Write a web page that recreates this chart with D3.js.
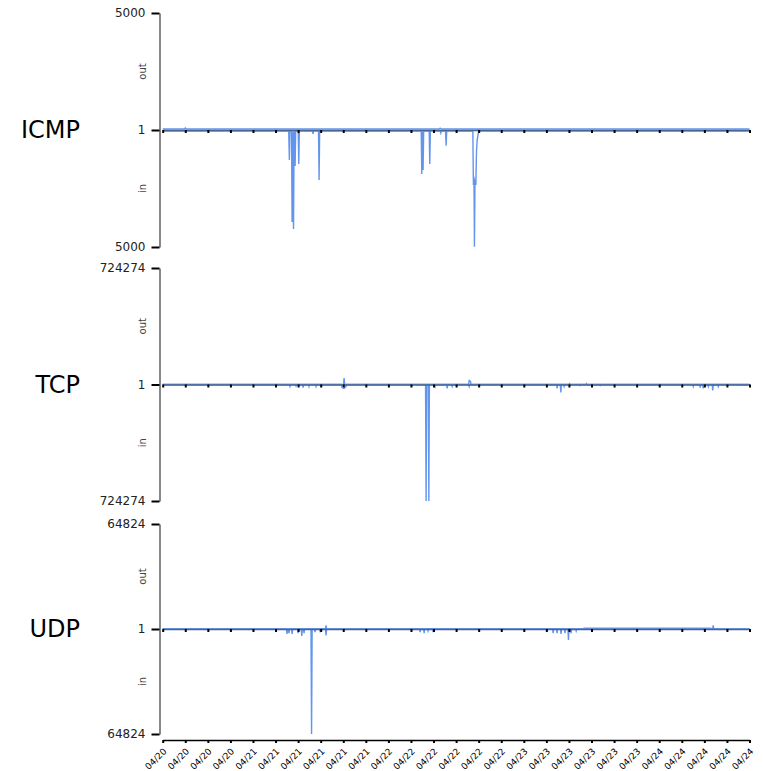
<!DOCTYPE html>
<html>
<head>
<meta charset="utf-8">
<script src="https://cdn.jsdelivr.net/npm/d3@7"></script>
<style>
  body { margin: 0; background: #fff; }
  svg { display: block; font-family: "DejaVu Sans", sans-serif; }
</style>
</head>
<body>
<svg width="763" height="771"></svg>
<script>
// protocols and their axis maxima
const protocols = ["ICMP", "TCP", "UDP"];
const maxima = [5000, 724274, 64824];
const centerLabel = "1";
const startTime = "04/20 08:00";
const endTime = "04/24 16:00";

// [time, value] samples
const icmpOut = [
    ["04/20 08:00", 40], ["04/20 11:50", 40], ["04/20 12:00", 90], ["04/20 12:10", 40],
    ["04/22 09:00", 40], ["04/22 09:10", 80], ["04/22 09:20", 40], ["04/24 16:00", 40]
];
const icmpIn = [
    ["04/20 08:00", 50],
    ["04/21 06:20", 50], ["04/21 06:27", 1280], ["04/21 06:33", 50],
    ["04/21 06:50", 50], ["04/21 06:56", 3930], ["04/21 07:03", 60], ["04/21 07:11", 4230], ["04/21 07:18", 50],
    ["04/21 07:23", 50], ["04/21 07:28", 1540], ["04/21 07:34", 50],
    ["04/21 08:01", 50], ["04/21 08:07", 1450], ["04/21 08:13", 50],
    ["04/21 10:33", 50], ["04/21 10:39", 170], ["04/21 10:45", 50],
    ["04/21 11:37", 50], ["04/21 11:43", 2140], ["04/21 11:49", 50],
    ["04/22 05:49", 50], ["04/22 05:55", 1880], ["04/22 06:02", 60], ["04/22 06:09", 1710], ["04/22 06:15", 50],
    ["04/22 07:14", 50], ["04/22 07:20", 1450], ["04/22 07:26", 50],
    ["04/22 09:11", 50], ["04/22 09:17", 130], ["04/22 09:23", 50],
    ["04/22 10:08", 50], ["04/22 10:14", 670], ["04/22 10:20", 50],
    ["04/22 14:58", 50], ["04/22 15:04", 2350], ["04/22 15:10", 2000], ["04/22 15:15", 4990],
    ["04/22 15:21", 2100], ["04/22 15:30", 2350], ["04/22 15:37", 900], ["04/22 15:44", 430],
    ["04/22 15:54", 200], ["04/22 16:00", 50],
    ["04/24 16:00", 50]
];
const tcpOut = [
    ["04/20 08:00", 0],
    ["04/21 16:03", 0], ["04/21 16:09", 40000], ["04/21 16:15", 0],
    ["04/22 14:13", 0], ["04/22 14:19", 25000], ["04/22 14:33", 19000], ["04/22 14:39", 0],
    ["04/23 08:00", 0], ["04/23 08:06", 6000], ["04/23 08:12", 0],
    ["04/23 11:00", 0], ["04/23 11:06", 6000], ["04/23 11:12", 0],
    ["04/24 16:00", 0]
];
const tcpIn = [
    ["04/20 08:00", 0],
    ["04/21 06:28", 0], ["04/21 06:34", 12000], ["04/21 06:40", 0],
    ["04/21 07:32", 0], ["04/21 07:38", 9000], ["04/21 07:44", 0],
    ["04/21 08:47", 0], ["04/21 08:53", 19000], ["04/21 08:59", 0],
    ["04/21 09:50", 0], ["04/21 09:56", 12000], ["04/21 10:02", 0],
    ["04/21 11:05", 0], ["04/21 11:11", 12000], ["04/21 11:17", 0],
    ["04/21 12:09", 0], ["04/21 12:15", 6000], ["04/21 12:21", 0],
    ["04/21 15:41", 0], ["04/21 15:47", 19000], ["04/21 16:09", 25000], ["04/21 16:30", 12000], ["04/21 16:36", 0],
    ["04/22 06:35", 0], ["04/22 06:41", 724274], ["04/22 06:47", 0],
    ["04/22 07:04", 0], ["04/22 07:10", 724274], ["04/22 07:16", 0],
    ["04/22 08:11", 0], ["04/22 08:17", 12000], ["04/22 08:23", 0],
    ["04/22 10:19", 0], ["04/22 10:25", 25000], ["04/22 10:31", 0],
    ["04/22 11:12", 0], ["04/22 11:18", 12000], ["04/22 11:24", 0],
    ["04/22 14:13", 0], ["04/22 14:19", 12000], ["04/22 14:25", 0],
    ["04/23 05:49", 0], ["04/23 05:55", 25000], ["04/23 06:01", 0],
    ["04/23 06:28", 0], ["04/23 06:34", 50000], ["04/23 06:40", 0],
    ["04/23 07:03", 0], ["04/23 07:09", 12000], ["04/23 07:15", 0],
    ["04/23 09:53", 0], ["04/23 09:59", 6000], ["04/23 10:05", 0],
    ["04/23 13:26", 0], ["04/23 13:32", 6000], ["04/23 13:38", 0],
    ["04/24 05:56", 0], ["04/24 06:02", 12000], ["04/24 06:08", 0],
    ["04/24 07:10", 0], ["04/24 07:16", 19000], ["04/24 07:22", 0],
    ["04/24 07:42", 0], ["04/24 07:48", 25000], ["04/24 07:54", 0],
    ["04/24 08:36", 0], ["04/24 08:42", 12000], ["04/24 08:48", 0],
    ["04/24 09:23", 0], ["04/24 09:29", 37000], ["04/24 09:35", 0],
    ["04/24 10:22", 0], ["04/24 10:28", 12000], ["04/24 10:34", 0],
    ["04/24 16:00", 0]
];
const udpOut = [
    ["04/20 08:00", 0],
    ["04/21 12:51", 0], ["04/21 12:57", 2200], ["04/21 13:03", 0],
    ["04/23 10:30", 0], ["04/23 10:40", 450], ["04/24 09:00", 450], ["04/24 09:28", 0],
    ["04/24 09:34", 2200], ["04/24 09:40", 0],
    ["04/24 16:00", 0]
];
const udpIn = [
    ["04/20 08:00", 0],
    ["04/21 05:56", 0], ["04/21 06:02", 3100], ["04/21 06:10", 0], ["04/21 06:23", 2500], ["04/21 06:30", 0],
    ["04/21 06:50", 0], ["04/21 06:56", 3100], ["04/21 07:02", 0],
    ["04/21 07:53", 0], ["04/21 07:59", 2500], ["04/21 08:05", 0],
    ["04/21 08:33", 0], ["04/21 08:39", 4300], ["04/21 08:45", 0],
    ["04/21 08:57", 0], ["04/21 09:03", 2500], ["04/21 09:09", 0],
    ["04/21 10:17", 0], ["04/21 10:23", 64824], ["04/21 10:29", 0],
    ["04/21 10:54", 0], ["04/21 11:00", 1850], ["04/21 11:06", 0],
    ["04/21 11:47", 0], ["04/21 11:53", 1200], ["04/21 11:59", 0],
    ["04/21 12:51", 0], ["04/21 12:57", 4000], ["04/21 13:03", 0],
    ["04/22 05:31", 0], ["04/22 05:37", 1850], ["04/22 05:43", 0],
    ["04/22 06:14", 0], ["04/22 06:20", 2500], ["04/22 06:26", 0],
    ["04/22 06:56", 0], ["04/22 07:02", 1200], ["04/22 07:08", 0],
    ["04/22 07:50", 0], ["04/22 07:56", 1850], ["04/22 08:02", 0],
    ["04/23 05:06", 0], ["04/23 05:12", 2500], ["04/23 05:18", 0],
    ["04/23 05:48", 0], ["04/23 05:54", 2500], ["04/23 06:00", 0],
    ["04/23 06:30", 0], ["04/23 06:36", 3100], ["04/23 06:42", 0],
    ["04/23 07:12", 0], ["04/23 07:18", 2500], ["04/23 07:24", 0],
    ["04/23 07:49", 0], ["04/23 07:55", 6800], ["04/23 08:01", 0],
    ["04/23 08:17", 0], ["04/23 08:23", 2500], ["04/23 08:29", 0],
    ["04/23 09:11", 0], ["04/23 09:17", 1200], ["04/23 09:23", 0],
    ["04/24 16:00", 0]
];

const outSeries = [icmpOut, tcpOut, udpOut];
const inSeries = [icmpIn, tcpIn, udpIn];

// layout
const panelTop = [13, 268, 524];
const panelBottom = [247, 501, 734];
const yAxisX = 159.5;
const bottomAxisY = 740;

const svg = d3.select("svg");
const parseTime = d3.timeParse("%m/%d %H:%M");

const x = d3.scaleTime()
    .domain([parseTime(startTime), parseTime(endTime)])
    .range([162.7, 749.5]);

protocols.forEach((name, i) => {
    const max = maxima[i];
    const y = d3.scaleLinear()
        .domain([-max, max])
        .range([panelBottom[i], panelTop[i]]);
    const g = svg.append("g");

    // out goes up, in goes down
    const outLine = d3.line().x(d => x(parseTime(d[0]))).y(d => y(d[1]));
    const inLine = d3.line().x(d => x(parseTime(d[0]))).y(d => y(-d[1]));

    g.append("path")
        .datum(outSeries[i])
        .attr("d", outLine)
        .attr("fill", "none")
        .attr("stroke", "#6495ED")
        .attr("stroke-width", 1.4);

    g.append("path")
        .datum(inSeries[i])
        .attr("d", inLine)
        .attr("fill", "none")
        .attr("stroke", "#6495ED")
        .attr("stroke-width", 1.4);

    // middle time axis, no labels
    const mid = g.append("g")
        .attr("transform", `translate(0,${y(0)})`)
        .call(d3.axisBottom(x)
            .ticks(d3.timeHour.every(4))
            .tickSize(3)
            .tickSizeOuter(0)
            .tickFormat(""));
    mid.select(".domain").attr("stroke", "#4a6590").attr("stroke-width", 1.5);
    mid.selectAll(".tick line").attr("stroke", "#000").attr("stroke-width", 2);

    // value axis
    const left = g.append("g")
        .attr("transform", `translate(${yAxisX},0)`)
        .call(d3.axisLeft(y)
            .tickValues([max, 0, -max])
            .tickSize(8)
            .tickSizeOuter(0)
            .tickPadding(6)
            .tickFormat(d => d === 0 ? centerLabel : Math.abs(d)));
    left.select(".domain").attr("stroke", "#888").attr("stroke-width", 2);
    left.selectAll(".tick line").attr("stroke", "#000").attr("stroke-width", 2);
    left.selectAll(".tick text")
        .attr("fill", "#222")
        .style("font-size", "12px")
        .style("font-family", "DejaVu Sans, sans-serif");

    // out / in labels
    const upperMid = (y(max) + y(0)) / 2;
    const lowerMid = (y(0) + y(-max)) / 2;
    g.append("text")
        .attr("transform", `translate(146,${upperMid}) rotate(-90)`)
        .attr("text-anchor", "middle")
        .style("font-size", "10px")
        .attr("fill", "#444")
        .text("out");
    g.append("text")
        .attr("transform", `translate(146,${lowerMid}) rotate(-90)`)
        .attr("text-anchor", "middle")
        .style("font-size", "10px")
        .attr("fill", "#444")
        .text("in");

    // protocol title
    g.append("text")
        .attr("x", 80)
        .attr("y", y(0))
        .attr("dy", "0.35em")
        .attr("text-anchor", "end")
        .style("font-size", "24px")
        .attr("fill", "#000")
        .text(name);
});

// bottom time axis with dates
const bottom = svg.append("g")
    .attr("transform", `translate(0,${bottomAxisY})`)
    .call(d3.axisBottom(x)
        .ticks(d3.timeHour.every(4))
        .tickSize(3)
        .tickSizeOuter(0)
        .tickFormat(d3.timeFormat("%m/%d")));
bottom.select(".domain").attr("stroke", "#000").attr("stroke-width", 1.5);
bottom.selectAll(".tick line").attr("stroke", "#000").attr("stroke-width", 2);
bottom.selectAll(".tick text")
    .attr("y", 0)
    .attr("dy", 0)
    .attr("transform", "translate(4,12) rotate(-45)")
    .attr("text-anchor", "end")
    .attr("fill", "#000")
    .style("font-size", "9px")
    .style("font-family", "DejaVu Sans, sans-serif");
</script>
</body>
</html>
